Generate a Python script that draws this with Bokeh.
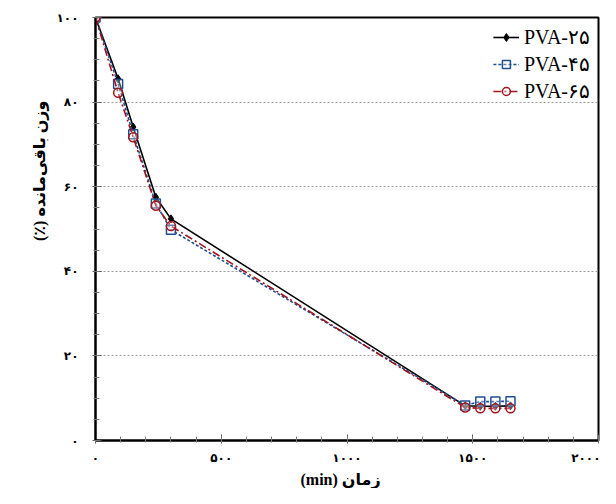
from bokeh.plotting import figure
from bokeh.models import FixedTicker, Range1d, Title
from bokeh.embed import file_html
from bokeh.resources import INLINE

# ---- data ----
time_min = [0, 90, 150, 240, 300, 1470, 1530, 1590, 1650]
pva25 = [100, 85.5, 74.1, 57.5, 52.4, 8.2, 8.1, 8.1, 8.2]
pva45 = [100, 84.3, 72.4, 56.0, 49.8, 8.3, 9.2, 9.2, 9.3]
pva65 = [100, 82.2, 71.7, 55.5, 50.7, 7.8, 7.6, 7.6, 7.6]
series_names = ["PVA-۲۵", "PVA-۴۵", "PVA-۶۵"]

x_ticks = [0, 500, 1000, 1500, 2000]
x_tick_labels = ["۰", "۵۰۰", "۱۰۰۰", "۱۵۰۰", "۲۰۰۰"]
x_minor = list(range(0, 2001, 100))
y_ticks = [0, 20, 40, 60, 80, 100]
y_tick_labels = ["۰", "۲۰", "۴۰", "۶۰", "۸۰", "۱۰۰"]
y_minor = list(range(0, 101, 5))
grid_ticks = [20, 40, 60, 80]

# RTL embedding marks keep the Persian titles in right-to-left order
x_title = "\u202bزمان (min)\u202c"
y_title = "\u202bوزن باقی‌مانده (٪)\u202c"

p = figure(width=600, height=488, output_backend="svg", toolbar_location=None,
           x_range=Range1d(0, 2000), y_range=Range1d(0, 100),
           min_border_left=95, min_border_right=2, min_border_top=17, min_border_bottom=43)

p.outline_line_color = "black"
p.outline_line_width = 2

# grid
p.xgrid.visible = False
p.ygrid.ticker = FixedTicker(ticks=grid_ticks)
p.ygrid.grid_line_color = "#9a9a9a"
p.ygrid.grid_line_dash = "2 2"
p.ygrid.grid_line_width = 1

# axes
p.xaxis.ticker = FixedTicker(ticks=x_ticks, minor_ticks=x_minor)
p.xaxis.major_label_overrides = {t: l for t, l in zip(x_ticks, x_tick_labels)}
p.yaxis.ticker = FixedTicker(ticks=y_ticks, minor_ticks=y_minor)
p.yaxis.major_label_overrides = {t: l for t, l in zip(y_ticks, y_tick_labels)}
for ax in (p.xaxis, p.yaxis):
    ax.axis_line_color = "black"
    ax.axis_line_width = 2
    ax.major_tick_in = 6
    ax.major_tick_out = 3
    ax.minor_tick_in = 4
    ax.minor_tick_out = 2
    ax.major_tick_line_color = "#555555"
    ax.minor_tick_line_color = "#777777"
    ax.major_label_text_font = "DejaVu Sans"
    ax.major_label_text_font_style = "bold"
    ax.major_label_text_font_size = "12px"
    ax.major_label_text_color = "black"
p.xaxis.major_label_standoff = 7
p.yaxis.major_label_standoff = 14

# axis titles as side titles (allows the same off-centre placement as the reference)
title_font = "Liberation Serif, DejaVu Sans"
p.add_layout(Title(text=y_title, align="right", offset=83, standoff=12,
                   text_font=title_font, text_font_style="bold", text_font_size="16px",
                   text_color="black"), "left")
p.add_layout(Title(text=x_title, align="left", offset=205, standoff=2,
                   text_font=title_font, text_font_style="bold", text_font_size="16px",
                   text_color="black"), "below")

black = "black"
blue = "#1f4f8f"
red = "#a0141e"

p.line(time_min, pva25, line_color=black, line_width=1.6, legend_label=series_names[0])
p.scatter(time_min, pva25, marker="diamond", size=8, fill_color=black, line_color=black,
          legend_label=series_names[0])

p.line(time_min, pva45, line_color=blue, line_width=1.6, line_dash="3 2",
       legend_label=series_names[1])
p.scatter(time_min, pva45, marker="square", size=9, fill_color="white", fill_alpha=0.3,
          line_color=blue, line_width=1.5, legend_label=series_names[1])

p.line(time_min, pva65, line_color=red, line_width=1.6, line_dash="8 3 2 3",
       legend_label=series_names[2])
p.scatter(time_min, pva65, marker="circle", size=9, fill_color="white", fill_alpha=0.3,
          line_color=red, line_width=1.5, legend_label=series_names[2])

p.legend.location = "top_right"
p.legend.border_line_color = None
p.legend.background_fill_alpha = 0
p.legend.label_text_font = "Liberation Serif"
p.legend.label_text_font_size = "20px"
p.legend.label_text_color = "black"
p.legend.glyph_width = 26
p.legend.spacing = 3
p.legend.padding = 4
p.legend.margin = 8

open("out.html", "w").write(file_html(p, INLINE))
